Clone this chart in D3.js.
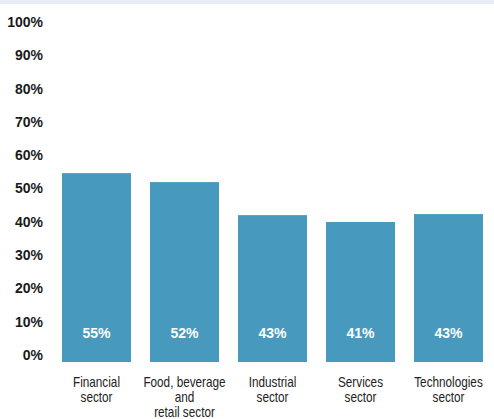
<!DOCTYPE html>
<html lang="en">
<head>
  <meta charset="UTF-8" />
  <title>Sector shares</title>
  <script src="https://d3js.org/d3.v7.min.js"></script>
  <style>
    body {
      margin: 0;
      background: #fff;
    }
    svg {
      display: block;
    }
    .tick-label {
      font-family: "Liberation Sans", Arial, sans-serif;
      font-weight: bold;
      font-size: 14px;
      fill: #1a1a1a;
    }
    .value-label {
      font-family: "Liberation Sans", Arial, sans-serif;
      font-weight: bold;
      font-size: 14px;
      fill: #fff;
    }
    .cat-label {
      font-family: "Liberation Sans", Arial, sans-serif;
      font-size: 14px;
      fill: #222;
    }
  </style>
</head>
<body>
  <svg id="chart"></svg>

  <script>
    const categories = [
      ["Financial", "sector"],
      ["Food, beverage", "and", "retail sector"],
      ["Industrial", "sector"],
      ["Services", "sector"],
      ["Technologies", "sector"]
    ];
    const values = [54.9, 52.3, 42.7, 40.7, 43.0];
    const valueLabels = ["55%", "52%", "43%", "41%", "43%"];
    const yTicks = [0, 10, 20, 30, 40, 50, 60, 70, 80, 90, 100];

    const W = 494, H = 419;

    const svg = d3.select("#chart")
                  .attr("width", W)
                  .attr("height", H);

    // light strip along the top edge
    svg.append("rect")
       .attr("x", 0).attr("y", 0)
       .attr("width", W).attr("height", 4)
       .attr("fill", "#e7edf7");

    const keys = categories.map((c, i) => i);

    const x = d3.scaleBand()
                .domain(keys)
                .range([62, 483])
                .paddingInner(0.216)
                .paddingOuter(0);

    // bars
    const y = d3.scaleLinear()
                .domain([0, 100])
                .range([362, 18]);

    // tick labels sit a bit apart from the bar scale in the original
    const yLab = d3.scaleLinear()
                   .domain([0, 100])
                   .range([355, 22]);

    const yAxis = svg.append("g")
                     .attr("transform", "translate(43,0)")
                     .call(d3.axisLeft(yLab)
                             .tickValues(yTicks)
                             .tickSize(0)
                             .tickPadding(0)
                             .tickFormat(d => d + "%"));
    yAxis.select(".domain").remove();
    yAxis.selectAll("text")
         .attr("class", "tick-label")
         .attr("font-family", null)
         .attr("font-size", null)
         .attr("fill", null);

    svg.selectAll(".bar")
       .data(values)
       .join("rect")
       .attr("class", "bar")
       .attr("x", (d, i) => x(i))
       .attr("y", d => y(d))
       .attr("width", x.bandwidth())
       .attr("height", d => y(0) - y(d))
       .attr("fill", "#479abe");

    svg.selectAll(".value-label")
       .data(valueLabels)
       .join("text")
       .attr("class", "value-label")
       .attr("x", (d, i) => x(i) + x.bandwidth() / 2)
       .attr("y", 333)
       .attr("dy", "0.35em")
       .attr("text-anchor", "middle")
       .text(d => d);

    // category names, squeezed a little to look like the condensed original
    const cats = svg.selectAll(".cat-label")
                    .data(categories)
                    .join("text")
                    .attr("class", "cat-label")
                    .attr("text-anchor", "middle")
                    .attr("transform", (d, i) =>
                      `translate(${x(i) + x.bandwidth() / 2},0) scale(0.84,1)`);

    cats.selectAll("tspan")
        .data(d => d)
        .join("tspan")
        .attr("x", 0)
        .attr("y", (d, j) => 382 + j * 15)
        .attr("dy", "0.35em")
        .text(d => d);
  </script>
</body>
</html>
